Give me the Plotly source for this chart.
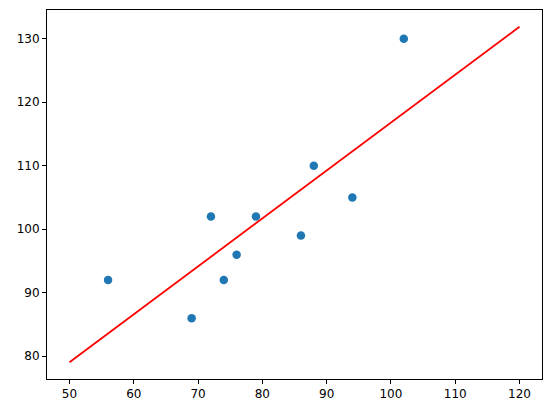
import plotly.graph_objects as go

# scatter data
x_vals = [56, 69, 72, 74, 76, 79, 86, 88, 94, 102]
y_vals = [92, 86, 102, 92, 96, 102, 99, 110, 105, 130]

# fitted line endpoints
line_x = [50, 120]
line_y = [79.06, 131.88]

x_ticks = [50, 60, 70, 80, 90, 100, 110, 120]
y_ticks = [80, 90, 100, 110, 120, 130]

fig = go.Figure()
fig.add_trace(go.Scatter(x=x_vals, y=y_vals, mode="markers",
                         marker=dict(color="#1f77b4", size=8.5, line=dict(width=0)),
                         showlegend=False))
fig.add_trace(go.Scatter(x=line_x, y=line_y, mode="lines",
                         line=dict(color="red", width=1.8),
                         showlegend=False))

axis_common = dict(showline=True, mirror=True, linecolor="black", linewidth=1,
                   ticks="outside", ticklen=4, tickwidth=1, tickcolor="black",
                   showgrid=False, zeroline=False,
                   tickfont=dict(family="DejaVu Sans", size=12, color="black"))

fig.update_xaxes(range=[46.5, 123.5], tickvals=x_ticks, **axis_common)
fig.update_yaxes(range=[76.42, 134.52], tickvals=y_ticks, **axis_common)

fig.update_layout(width=544, height=405,
                  margin=dict(l=38.5, r=9.5, t=2, b=34, autoexpand=False),
                  plot_bgcolor="white", paper_bgcolor="white")

fig.write_html("out.html")
